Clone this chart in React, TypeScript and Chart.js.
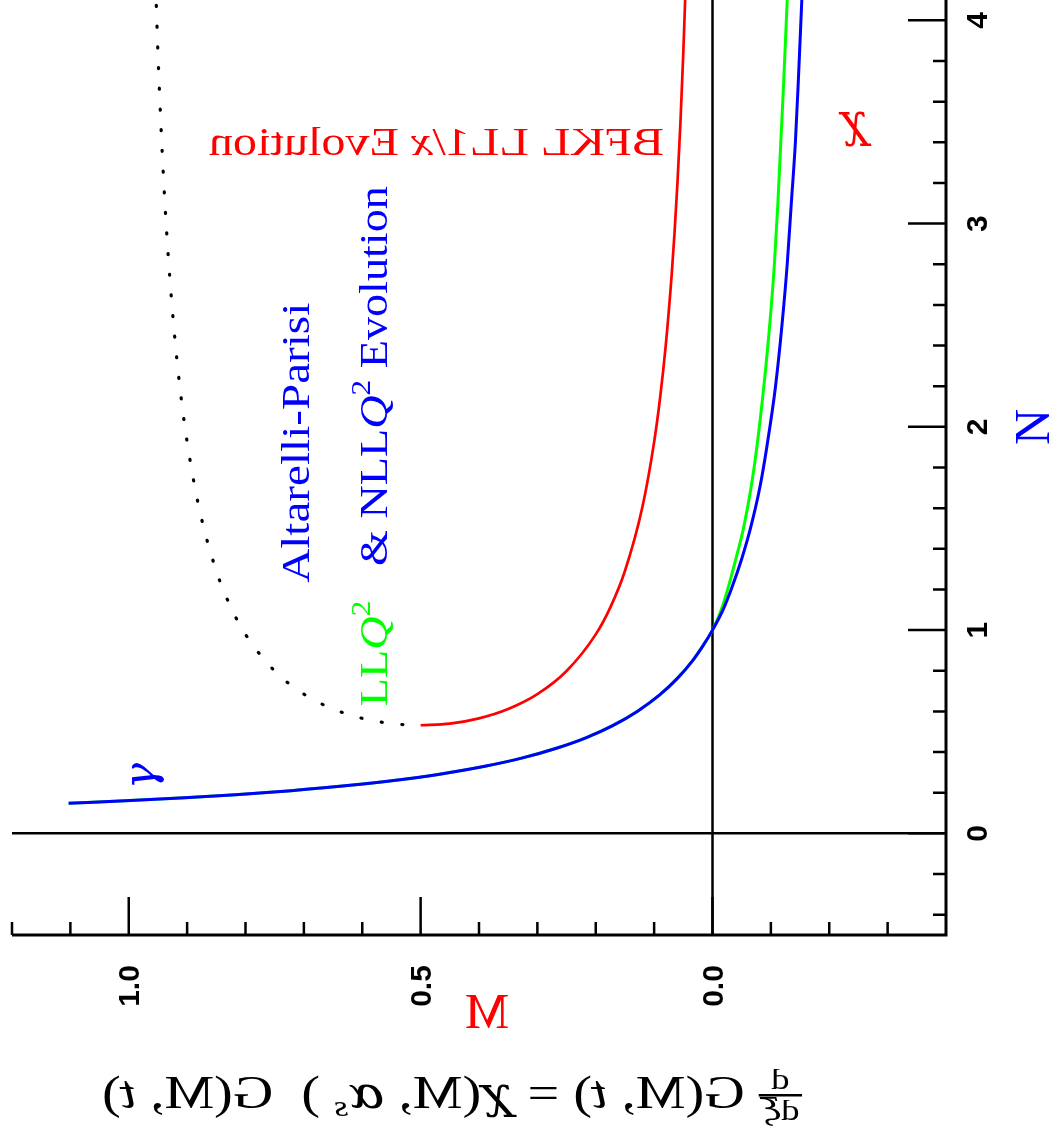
import React, { useEffect, useRef } from "react";
import { Chart, registerables } from "chart.js";
Chart.register(...registerables);

// Altarelli-Parisi curves (gamma): N values with M for NLL (blue) and LL (green)
const apN = [0.148, 0.16, 0.175, 0.19, 0.21, 0.235, 0.26, 0.29, 0.33, 0.37, 0.42, 0.47, 0.53, 0.6, 0.68, 0.76, 0.85, 0.92, 1.0, 1.1, 1.2, 1.35, 1.5, 1.7, 1.9, 2.2, 2.5, 2.8, 3.1, 3.4, 3.7, 4.1];
const nllM = [1.103, 1.006, 0.904, 0.817, 0.722, 0.625, 0.546, 0.47, 0.39, 0.327, 0.266, 0.217, 0.171, 0.129, 0.091, 0.061, 0.034, 0.017, 0.0, -0.018, -0.032, -0.05, -0.065, -0.081, -0.093, -0.108, -0.119, -0.128, -0.135, -0.142, -0.147, -0.153];
const llM = [1.103, 1.006, 0.904, 0.817, 0.722, 0.625, 0.546, 0.47, 0.39, 0.327, 0.266, 0.217, 0.171, 0.129, 0.091, 0.061, 0.034, 0.017, 0.0, -0.015, -0.026, -0.04, -0.053, -0.066, -0.076, -0.088, -0.098, -0.106, -0.112, -0.117, -0.122, -0.128];

// BFKL chi curve (red), M < 0.5 branch
const bfklM = [0.5, 0.45, 0.4, 0.35, 0.3, 0.25, 0.2, 0.175, 0.15, 0.12, 0.1, 0.09, 0.08, 0.07, 0.065, 0.06, 0.055, 0.05, 0.046];
const bfklN = [0.532, 0.54, 0.566, 0.612, 0.685, 0.799, 0.979, 1.112, 1.291, 1.607, 1.925, 2.137, 2.403, 2.745, 2.956, 3.202, 3.492, 3.841, 4.175];

// dotted branch M > 0.5
const symM = [0.954, 0.95, 0.945, 0.94, 0.935, 0.93, 0.92, 0.91, 0.9, 0.88, 0.85, 0.825, 0.8, 0.75, 0.7, 0.65, 0.6, 0.55, 0.53];
const symN = [4.175, 3.841, 3.492, 3.202, 2.956, 2.745, 2.403, 2.137, 1.925, 1.607, 1.291, 1.112, 0.979, 0.799, 0.685, 0.612, 0.566, 0.54, 0.535];

// ticks
const mMajor = [1.0, 0.5, 0.0];
const mMajorLabels = ["1.0", "0.5", "0.0"];
const mMinor = [1.2, 1.1, 0.9, 0.8, 0.7, 0.6, 0.4, 0.3, 0.2, 0.1, -0.1, -0.2, -0.3];
const nMajor = [0, 1, 2, 3, 4];
const nMajorLabels = ["0", "1", "2", "3", "4"];
const nMinor = [-0.4, -0.2, 0.2, 0.4, 0.6, 0.8, 1.2, 1.4, 1.6, 1.8, 2.2, 2.4, 2.6, 2.8, 3.2, 3.4, 3.6, 3.8];

const SERIF = '"Liberation Serif", "DejaVu Serif", serif';
const GREEK = '"DejaVu Serif", "Liberation Serif", serif';
const SANS = '"Liberation Sans", Arial, sans-serif';
const RED = "#ff0000";
const BLUE = "#0000ff";
const GREEN = "#00ff00";

type Piece = { t: string; font: string; color: string; dy?: number };

function piecesWidth(ctx: CanvasRenderingContext2D, ps: Piece[]) {
  let w = 0;
  for (const p of ps) {
    ctx.font = p.font;
    w += ctx.measureText(p.t).width;
  }
  return w;
}
function drawPieces(ctx: CanvasRenderingContext2D, ps: Piece[], x0: number) {
  let x = x0;
  for (const p of ps) {
    ctx.font = p.font;
    ctx.fillStyle = p.color;
    ctx.fillText(p.t, x, p.dy || 0);
    x += ctx.measureText(p.t).width;
  }
}

const pairs = (xs: number[], ys: number[]) => xs.map((x, i) => ({ x, y: ys[i] }));

const decorPlugin = {
  id: "decor",
  beforeDatasetsDraw(chart: any) {
    const { ctx, chartArea: a, scales } = chart;
    const xs = scales.x;
    const ys = scales.y;
    ctx.save();
    ctx.strokeStyle = "#000";
    ctx.lineCap = "butt";
    ctx.lineWidth = 2.5;
    const x0 = xs.getPixelForValue(0);
    const y0 = ys.getPixelForValue(0);
    ctx.beginPath();
    ctx.moveTo(x0, a.top);
    ctx.lineTo(x0, a.bottom);
    ctx.moveTo(a.left, y0);
    ctx.lineTo(a.right, y0);
    ctx.stroke();
    ctx.lineWidth = 2.5;
    ctx.beginPath();
    for (const v of mMajor) {
      const p = xs.getPixelForValue(v);
      ctx.moveTo(p, a.bottom);
      ctx.lineTo(p, a.bottom - 38);
    }
    for (const v of mMinor) {
      const p = xs.getPixelForValue(v);
      ctx.moveTo(p, a.bottom);
      ctx.lineTo(p, a.bottom - 13);
    }
    for (const v of nMajor) {
      const p = ys.getPixelForValue(v);
      ctx.moveTo(a.right, p);
      ctx.lineTo(a.right - 38, p);
    }
    for (const v of nMinor) {
      const p = ys.getPixelForValue(v);
      ctx.moveTo(a.right, p);
      ctx.lineTo(a.right - 13, p);
    }
    ctx.stroke();
    ctx.lineWidth = 3;
    ctx.beginPath();
    ctx.moveTo(a.left, a.bottom);
    ctx.lineTo(a.right, a.bottom);
    ctx.lineTo(a.right, a.top);
    ctx.stroke();
    ctx.restore();
  },
  afterDraw(chart: any) {
    const { ctx, chartArea: a, scales } = chart;
    const xs = scales.x;
    const ys = scales.y;
    ctx.save();
    // tick labels (rotated)
    ctx.fillStyle = "#000";
    ctx.font = `bold 30px ${SANS}`;
    ctx.textAlign = "center";
    ctx.textBaseline = "middle";
    mMajor.forEach((v, i) => {
      ctx.save();
      ctx.translate(xs.getPixelForValue(v) + 2, a.bottom + 51);
      ctx.rotate(-Math.PI / 2);
      ctx.fillText(mMajorLabels[i], 0, 0);
      ctx.restore();
    });
    nMajor.forEach((v, i) => {
      ctx.save();
      ctx.translate(a.right + 33, ys.getPixelForValue(v));
      ctx.rotate(-Math.PI / 2);
      ctx.fillText(nMajorLabels[i], 0, 0);
      ctx.restore();
    });

    // axis titles
    ctx.save();
    ctx.font = `50px ${SERIF}`;
    ctx.fillStyle = RED;
    ctx.translate(487, a.bottom + 80);
    ctx.scale(-1, 1);
    ctx.fillText("M", 0, 0);
    ctx.restore();

    ctx.save();
    ctx.font = `50px ${SERIF}`;
    ctx.fillStyle = BLUE;
    ctx.translate(a.right + 90, ys.getPixelForValue(2.0));
    ctx.rotate(-Math.PI / 2);
    ctx.fillText("N", 0, 0);
    ctx.restore();

    ctx.textAlign = "left";
    ctx.textBaseline = "alphabetic";

    // BFKL text, mirrored
    {
      const ps: Piece[] = [
        { t: "BFKL LL1/", font: `40px ${SERIF}`, color: RED },
        { t: "x", font: `italic 40px ${SERIF}`, color: RED },
        { t: " Evolution", font: `40px ${SERIF}`, color: RED },
      ];
      const w = piecesWidth(ctx, ps);
      const target = 455;
      ctx.save();
      ctx.translate(xs.getPixelForValue(0.473), ys.getPixelForValue(3.335));
      ctx.scale(-target / w, 1);
      drawPieces(ctx, ps, -w / 2);
      ctx.restore();
    }
    // chi symbol mirrored
    ctx.save();
    ctx.font = `italic 46px ${GREEK}`;
    ctx.fillStyle = RED;
    ctx.textAlign = "center";
    ctx.translate(xs.getPixelForValue(-0.244), ys.getPixelForValue(3.43));
    ctx.scale(-1, 1);
    ctx.fillText("χ", 0, 0);
    ctx.restore();

    // gamma symbol rotated
    ctx.save();
    ctx.font = `italic 44px ${GREEK}`;
    ctx.fillStyle = BLUE;
    ctx.textAlign = "center";
    ctx.textBaseline = "middle";
    ctx.translate(xs.getPixelForValue(0.975), ys.getPixelForValue(0.282));
    ctx.rotate(-Math.PI / 2);
    ctx.fillText("γ", 0, 0);
    ctx.restore();

    // Altarelli-Parisi rotated
    {
      const ps: Piece[] = [{ t: "Altarelli-Parisi", font: `40px ${SERIF}`, color: BLUE }];
      const w = piecesWidth(ctx, ps);
      ctx.save();
      ctx.translate(xs.getPixelForValue(0.691), ys.getPixelForValue(1.233));
      ctx.rotate(-Math.PI / 2);
      ctx.scale(280 / w, 1);
      drawPieces(ctx, ps, 0);
      ctx.restore();
    }
    // LLQ^2 & NLLQ^2 Evolution rotated
    {
      const f = `40px ${SERIF}`;
      const fi = `italic 40px ${SERIF}`;
      const fs = `27px ${SERIF}`;
      const ps: Piece[] = [
        { t: "LL", font: f, color: GREEN },
        { t: "Q", font: fi, color: GREEN },
        { t: "2", font: fs, color: GREEN, dy: -17 },
        { t: "   & NLL", font: f, color: BLUE },
        { t: "Q", font: fi, color: BLUE },
        { t: "2", font: fs, color: BLUE, dy: -17 },
        { t: " Evolution", font: f, color: BLUE },
      ];
      const w = piecesWidth(ctx, ps);
      ctx.save();
      ctx.translate(xs.getPixelForValue(0.557), ys.getPixelForValue(0.626));
      ctx.rotate(-Math.PI / 2);
      ctx.scale(520 / w, 1);
      drawPieces(ctx, ps, 0);
      ctx.restore();
    }

    // formula, mirrored
    {
      const f = `46px ${SERIF}`;
      const fi = `italic 46px ${SERIF}`;
      const fg = `italic 44px ${GREEK}`;
      const fsub = `italic 30px ${SERIF}`;
      const ff = `30px ${SERIF}`;
      const ffi = `italic 30px ${GREEK}`;
      ctx.font = ff;
      const numW = ctx.measureText("d").width;
      const denD = ctx.measureText("d").width;
      ctx.font = ffi;
      const denX = ctx.measureText("ξ").width;
      const fracW = denD + denX + 4;
      const ps: Piece[] = [
        { t: " G(M, ", font: f, color: "#000" },
        { t: "t", font: fi, color: "#000" },
        { t: ") = ", font: f, color: "#000" },
        { t: "χ", font: fg, color: "#000" },
        { t: "(M, ", font: f, color: "#000" },
        { t: "α", font: fg, color: "#000" },
        { t: "s", font: fsub, color: "#000", dy: 8 },
        { t: " )  G(M, ", font: f, color: "#000" },
        { t: "t", font: fi, color: "#000" },
        { t: ")", font: f, color: "#000" },
      ];
      const w = piecesWidth(ctx, ps) + fracW;
      const target = 700;
      ctx.save();
      ctx.translate(452, a.bottom + 173);
      ctx.scale(-target / w, 1);
      const x0 = -w / 2;
      ctx.fillStyle = "#000";
      ctx.font = ff;
      ctx.fillText("d", x0 + (fracW - numW) / 2, -19);
      ctx.fillRect(x0, -14, fracW, 2.5);
      ctx.fillText("d", x0 + 2, 12);
      ctx.font = ffi;
      ctx.fillText("ξ", x0 + 2 + denD, 12);
      drawPieces(ctx, ps, x0 + fracW);
      ctx.restore();
    }
    ctx.restore();
  },
};

export default function App() {
  const ref = useRef<HTMLCanvasElement | null>(null);
  useEffect(() => {
    if (!ref.current) return;
    const common = {
      showLine: true,
      pointRadius: 0,
      cubicInterpolationMode: "monotone",
    };
    const chart = new Chart(ref.current, {
      type: "scatter",
      data: {
        datasets: [
          { ...common, label: "NLL", data: pairs(nllM, apN), borderColor: BLUE, borderWidth: 3, order: 0 },
          { ...common, label: "LL", data: pairs(llM, apN), borderColor: GREEN, borderWidth: 3, order: 1 },
          { ...common, label: "BFKL", data: pairs(bfklM, bfklN), borderColor: RED, borderWidth: 2.7, order: 2 },
          {
            ...common,
            label: "sym",
            data: pairs(symM, symN),
            borderColor: "#000",
            borderWidth: 3.2,
            borderDash: [1, 19.7],
            borderCapStyle: "round",
            order: 3,
          },
        ],
      },
      options: {
        animation: false,
        responsive: false,
        devicePixelRatio: 1,
        layout: { padding: { left: 12, top: 0, right: 0, bottom: 0 } },
        plugins: { legend: { display: false }, tooltip: { enabled: false } },
        events: [],
        scales: {
          x: {
            type: "linear",
            reverse: true,
            min: -0.4,
            max: 1.2,
            grid: { display: false },
            border: { display: false },
            ticks: { display: false },
            afterFit: (s: any) => {
              s.height = 206;
            },
          },
          y: {
            type: "linear",
            position: "right",
            min: -0.5,
            max: 4.1,
            grid: { display: false },
            border: { display: false },
            ticks: { display: false },
            afterFit: (s: any) => {
              s.width = 111;
            },
          },
        },
      },
      plugins: [decorPlugin],
    } as any);
    return () => chart.destroy();
  }, []);
  return (
    <canvas
      ref={ref}
      width={1057}
      height={1141}
      style={{ position: "absolute", left: 0, top: 0, width: 1057, height: 1141, display: "block" }}
    />
  );
}
